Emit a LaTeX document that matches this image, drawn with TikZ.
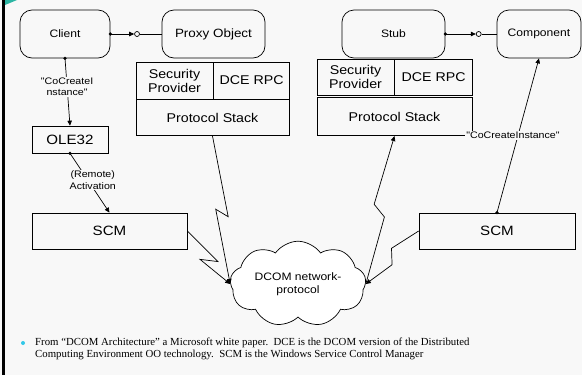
\documentclass[tikz,border=0pt]{standalone}
\usepackage{fontspec}
\setmainfont{Liberation Serif}
\newfontfamily\diagfont[FakeStretch=1.12]{Liberation Sans}
\usetikzlibrary{arrows.meta,positioning,calc,shapes.symbols}
\definecolor{slidebg}{HTML}{F8F8F8}
\definecolor{slideteal}{HTML}{2BB5A3}
\definecolor{bulletcyan}{HTML}{33C8E8}
\tikzset{
  dcarr/.style={-{Triangle[length=5pt,width=4.5pt]}, line width=0.7pt},
  dcback/.style={{Triangle[length=5pt,width=4.5pt]}-, line width=0.7pt},
  dcnode/.style={draw, line width=0.7pt, align=center, inner sep=1pt},
  dcsmall/.style={font=\diagfont\fontsize{10.8}{12.5}\selectfont},
}

\begin{document}
\begin{tikzpicture}[
  x=1pt, y=-1pt,
  font=\diagfont,
  rbox/.style={dcnode, dcsmall, rounded corners=12pt, minimum width=103pt, minimum height=48pt},
  sbox/.style={dcnode, font=\diagfont\fontsize{12.7}{14}\selectfont},
  bbox/.style={dcnode, font=\diagfont\fontsize{13.5}{15}\selectfont, minimum height=36pt},
  lbl/.style={fill=slidebg, inner sep=1pt, align=center, font=\diagfont\fontsize{9.5}{11.5}\selectfont},
  plug/.style={circle, draw, line width=0.7pt, inner sep=0pt, minimum size=5pt},
  bolt/.style n args={4}{to path={-- ($(\tikztostart)!#1!(\tikztotarget)!#2!90:(\tikztotarget)$)
    -- ($(\tikztostart)!#3!(\tikztotarget)!#4!90:(\tikztotarget)$) -- (\tikztotarget)}},
]
  % slide background
  \fill[slidebg] (0,0) rectangle (582,375);
  \useasboundingbox (0,0) rectangle (582,375);
  \fill[black] (1.5,0) rectangle (5,375);
  \fill[slideteal] (5,0) -- (17,0) -- (5,5) -- cycle;

  % top row
  \node[rbox, minimum width=90pt] (client) at (65,34) {Client};
  \node[rbox, font=\diagfont\fontsize{12}{14}\selectfont] (proxy) at (213.5,34) {Proxy Object};
  \node[rbox] (stub) at (393.5,34) {Stub};
  \node[rbox, minimum width=84pt] (comp) at (539,34) {Component};

  % client side stack
  \node[sbox, minimum width=77pt, minimum height=37pt] (lsec) at (174.5,80.5) {Security\\Provider};
  \node[sbox, minimum width=76pt, minimum height=37pt, right=0pt of lsec] (lrpc) {DCE RPC};
  \node[sbox, minimum width=153pt, minimum height=36pt, anchor=north west] (lps) at (lsec.south west) {Protocol Stack};

  % component side stack
  \node[sbox, minimum width=77pt, minimum height=36pt] (rsec) at (355.5,77) {Security\\Provider};
  \node[sbox, minimum width=78pt, minimum height=36pt, right=0pt of rsec] (rrpc) {DCE RPC};
  \node[sbox, minimum width=155pt, minimum height=38pt, below right=2pt and 0pt of rsec.south west, anchor=north west] (rps) {Protocol Stack};

  \node[bbox, minimum width=76pt, minimum height=27pt] (ole) at (70,139.5) {OLE32};
  \node[bbox, minimum width=155pt] (lscm) at (109.5,231) {SCM};
  \node[bbox, minimum width=156pt] (rscm) at (497,231) {SCM};
  \node[draw, line width=0.7pt, fill=white, cloud, cloud puffs=9, cloud puff arc=110, aspect=2,
    minimum width=112pt, minimum height=62pt, align=center, dcsmall] (cloud) at (298,284) {DCOM network-\\protocol};

  % interface links
  \node[plug] (lplug) at ($(client.east)!.52!(proxy.west)$) {};
  \node[plug] (rplug) at ($(stub.east)!.65!(comp.west)$) {};
  \foreach \a/\b/\c in {client/lplug/proxy,stub/rplug/comp}{
    \draw[dcarr] (\a.east) -- (\b.west);
    \draw[line width=0.7pt] (\b.east) -- (\c.west);
    \fill (\a.east) circle (1.8pt);
  }

  % activation
  \draw[dcarr] (client.south) -- node[lbl, pos=.42] (cci) {"CoCreateI\\nstance"} (ole.north);
  \draw[dcarr] (ole.south) -- node[lbl, pos=.45, xshift=5pt] (act) {(Remote)\\Activation} (lscm.north);
  \draw[dcarr] (rscm.north) -- node[lbl, pos=.5, xshift=-5pt] (ccr) {"CoCreateInstance"} (comp.south);
  \foreach \n in {client.south,ole.south,rscm.north}
    \fill (\n) circle (1.8pt);

  % network
  \draw[dcarr] (lps.south) to[bolt={.55}{6pt}{.49}{-5.5pt}] (cloud.west);
  \draw[dcarr] (lscm.east) to[bolt={.63}{4.5pt}{.44}{-8pt}] (cloud.west);
  \draw[dcback] (rps.south) to[bolt={.47}{-7pt}{.54}{5.5pt}] (cloud.east);
  \draw[dcarr] (rscm.west) to[bolt={.42}{-7pt}{.57}{5pt}] (cloud.east);

  % note
  \node[anchor=west, align=left, inner sep=0pt, font=\fontsize{10.8}{12}\selectfont] (note) at (35,349)
    {From “DCOM Architecture” a Microsoft white paper.\enspace DCE is the DCOM version of the Distributed\\
     Computing Environment OO technology.\enspace SCM is the Windows Service Control Manager};
  \fill[bulletcyan] (23,343) circle (2pt);
\end{tikzpicture}
\end{document}
